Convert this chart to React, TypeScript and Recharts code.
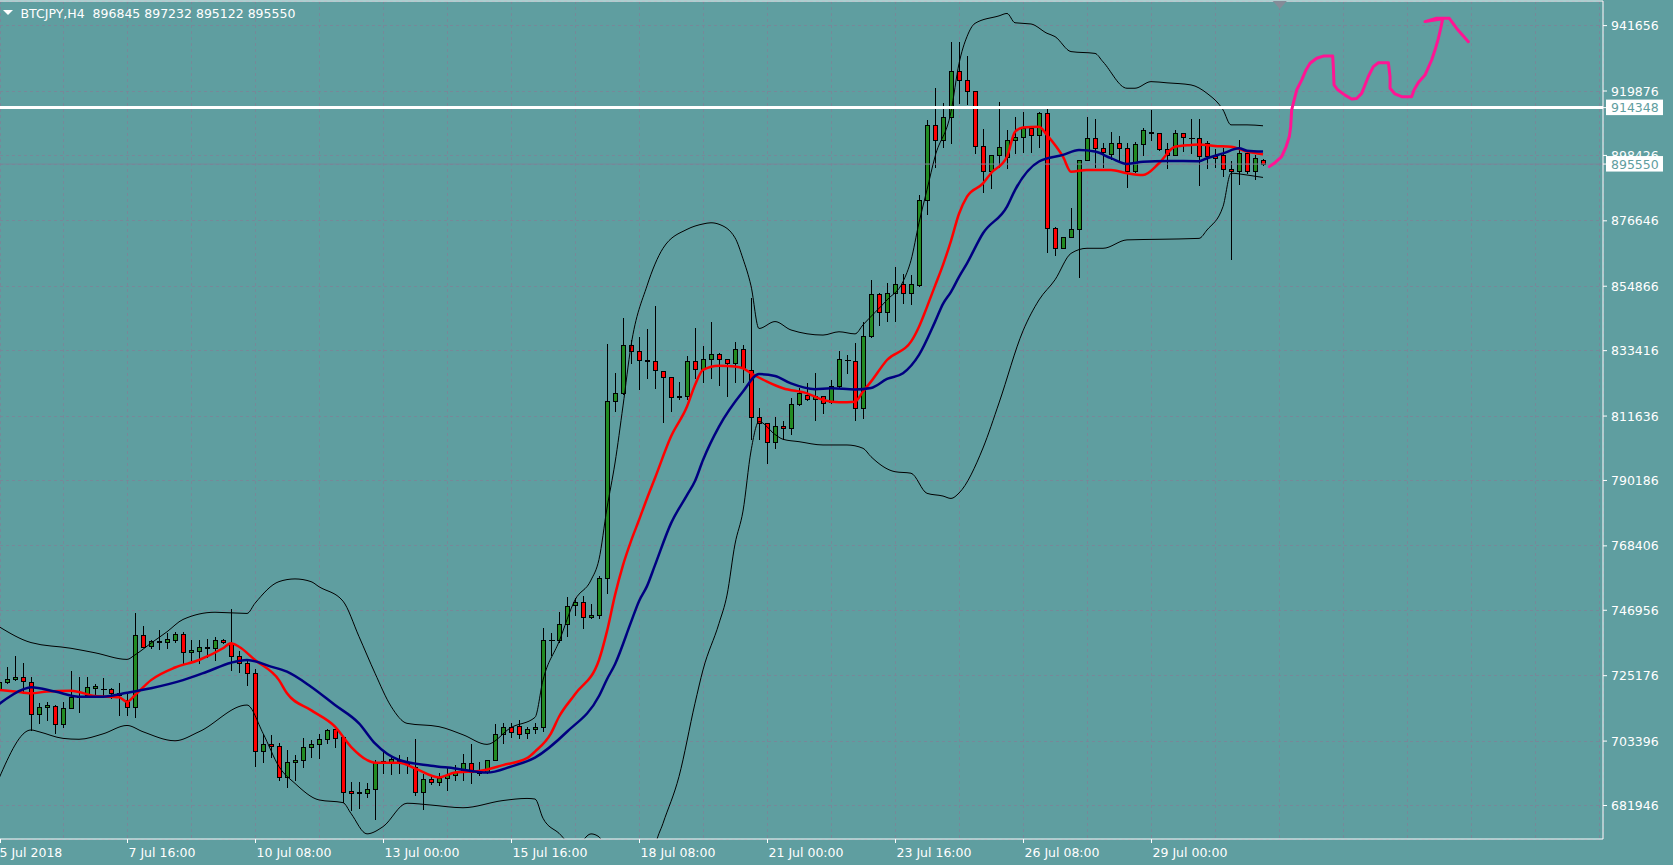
import React from 'react';
import {
  ComposedChart, Bar, Line, Scatter, XAxis, YAxis, CartesianGrid, ReferenceLine, ReferenceDot,
} from 'recharts';

// BTCJPY H4, bar 0 = 5 Jul 2018 00:00, one bar every 4 hours
const OPEN = [
  720400, 723200, 724000, 724900, 723200, 712300, 714600, 715200, 709200, 714300,
  718200, 718700, 721000, 720900, 720600, 719300, 717100, 714900, 738700, 735100,
  736400, 736300, 737100, 739100, 733000, 733500, 734500, 734500, 737100, 736000,
  731800, 729300, 726000, 700200, 702400, 701800, 691300, 696500, 697000, 701300,
  702300, 704100, 707300, 704600, 686800, 686000, 686000, 687300, 696500, 696500,
  696800, 696500, 694900, 686600, 690700, 689700, 691000, 692100, 693200, 696000,
  693200, 693000, 697100, 705800, 708000, 708400, 706000, 707300, 708000, 737100,
  737200, 742300, 748700, 749600, 744600, 745400, 757600, 816700, 819200, 835200,
  833200, 830200, 829900, 826700, 824700, 817900, 818400, 830100, 827200, 830500,
  832200, 830500, 829200, 833800, 826900, 811400, 809200, 803100, 808400, 807500,
  815500, 818600, 817200, 818300, 816200, 821800, 830300, 830100, 814200, 838300,
  852200, 846200, 852500, 855500, 852700, 855300, 883600, 908600, 903600, 911100,
  926500, 923500, 919900, 901600, 893200, 898600, 897800, 903600, 904500, 907700,
  905200, 912400, 874100, 867500, 871200, 873800, 896900, 904300, 900800, 898900,
  902500, 900800, 893200, 902100, 906300, 905800, 900400, 898600, 905800, 904300,
  904100, 902700, 898200, 898600, 893800, 893200, 899100, 893200, 896845,
];
const HIGH = [
  724800, 728000, 731800, 729500, 724900, 716000, 716300, 715400, 716500, 726700,
  724600, 724600, 722400, 724300, 721000, 722900, 719300, 745900, 741700, 737100,
  740400, 739300, 739800, 739800, 737100, 737100, 737300, 737900, 737300, 747400,
  733500, 730400, 727300, 705600, 705400, 702900, 700400, 698800, 704300, 703800,
  705800, 707300, 707500, 705200, 689900, 689900, 689300, 697100, 700400, 698200,
  698800, 698200, 704000, 692400, 691500, 692700, 694900, 695400, 699100, 702400,
  696500, 697100, 709100, 709500, 709500, 710400, 708200, 709300, 740900, 739500,
  746500, 751500, 750900, 751700, 749000, 758400, 835600, 825900, 844200, 837000,
  838000, 840500, 848300, 826700, 824700, 823100, 831700, 840800, 835100, 842800,
  832700, 830500, 836400, 835300, 851100, 814200, 809200, 811200, 810100, 817800,
  820900, 822500, 825900, 818300, 823600, 833300, 832000, 836100, 843100, 856900,
  852700, 855800, 861400, 858800, 858600, 885200, 910200, 920800, 915800, 936300,
  936300, 931500, 919900, 907100, 898600, 916300, 906900, 911100, 913000, 908200,
  913000, 914100, 874700, 871200, 880800, 896900, 911300, 910600, 902500, 906300,
  905000, 902500, 903000, 907400, 913600, 905800, 902500, 906900, 905800, 910400,
  910400, 903200, 900500, 900800, 896600, 903600, 899700, 898600, 897232,
];
const LOW = [
  719300, 722600, 723700, 719300, 707100, 709500, 710400, 706000, 708200, 714300,
  713000, 718200, 718200, 718200, 717600, 712100, 712100, 711500, 734800, 734300,
  734000, 734300, 736500, 729300, 730400, 729300, 731500, 730400, 736000, 727100,
  726500, 722100, 695200, 696500, 698200, 690500, 688200, 690400, 694900, 698200,
  697700, 702700, 701500, 683200, 680500, 681000, 684900, 677300, 692900, 692400,
  692700, 692700, 685400, 680700, 689100, 688800, 687100, 690400, 690400, 689300,
  692100, 692700, 697100, 702700, 704900, 704300, 704300, 706000, 706600, 732100,
  736500, 738400, 745400, 740900, 744300, 744300, 752600, 813400, 819000, 829200,
  820500, 824400, 821100, 809800, 813400, 817300, 817200, 824400, 823100, 824400,
  822000, 818400, 823100, 823100, 803900, 803900, 796100, 800900, 803900, 805500,
  815300, 817000, 810300, 812800, 815900, 821400, 826100, 810300, 811100, 838100,
  841900, 843400, 843400, 849400, 848900, 854900, 878900, 894700, 901300, 902700,
  915800, 915500, 899100, 886400, 887500, 894700, 894100, 899100, 899700, 899700,
  901300, 866200, 865300, 867500, 871200, 858000, 896900, 894700, 894500, 897100,
  896900, 887800, 893000, 898600, 903600, 900200, 894100, 898500, 900000, 899100,
  888600, 894100, 894500, 891600, 864100, 888800, 892500, 890500, 895122,
];
const CLOSE = [
  723200, 724000, 724900, 723400, 712300, 714600, 715400, 709200, 714300, 718200,
  718000, 721500, 721700, 720800, 719300, 718700, 714900, 738700, 734800, 736600,
  736800, 737400, 739100, 733000, 733700, 734600, 734800, 737100, 736300, 731800,
  729300, 726000, 700200, 702400, 701800, 691300, 696500, 697000, 701300, 702300,
  704100, 707100, 704300, 686600, 686000, 686600, 687300, 696500, 696700, 697300,
  697100, 695900, 686600, 690700, 689700, 691200, 692100, 693200, 696000, 693200,
  692900, 697100, 705800, 708000, 706500, 705800, 707300, 708000, 737100, 737200,
  742300, 748500, 749600, 744600, 745400, 757600, 816700, 819200, 835200, 833200,
  830200, 830000, 827000, 824700, 817900, 818400, 830100, 827200, 830500, 832200,
  830500, 829200, 833800, 827500, 811400, 809400, 803100, 808400, 807500, 815500,
  819200, 817200, 818300, 815900, 821800, 830500, 830300, 814200, 838300, 852200,
  846200, 852500, 855500, 852700, 855500, 883600, 908600, 903600, 911100, 926500,
  923500, 919900, 901600, 893400, 898600, 901300, 903600, 904500, 907700, 905200,
  912400, 874100, 867500, 871200, 873800, 896900, 904300, 900800, 899500, 902500,
  900800, 893200, 902100, 906900, 905800, 900400, 898600, 905800, 904400, 904300,
  898200, 898200, 897600, 893800, 893200, 899100, 893200, 897500, 895550,
];

// Bollinger bands and moving averages, read at these bars
const UPPER_AT = [
  0, 4, 9, 12, 16, 17, 19, 21, 23, 27, 31, 32, 35, 37, 39, 40, 43, 45, 47, 49,
  51, 55, 58, 61, 64, 67, 68, 70, 72, 74, 75, 76, 77, 78, 79, 81, 83, 86, 88, 89,
  90, 92, 93, 94, 95, 97, 99, 103, 105, 107, 108, 111, 113, 114, 115, 116, 117, 119, 120, 121,
  122, 125, 126, 127, 129, 131, 132, 134, 137, 138, 141, 142, 144, 146, 149, 151, 153, 154, 156, 158,
];
const UPPER = [
  741500, 736200, 734300, 732800, 730600, 732100, 736000, 739800, 743900, 746300,
  745900, 749300, 756500, 757400, 756500, 754800, 750000, 738200, 726000, 715000,
  709300, 708200, 705500, 702300, 707900, 711300, 723700, 736500, 750400, 757000,
  763900, 781000, 796000, 815000, 835000, 855000, 867500, 873800, 875600, 876000,
  875500, 871000, 864000, 855000, 840800, 843100, 840300, 838600, 839700, 839000,
  842000, 850300, 856400, 863500, 876000, 887000, 898000, 913000, 929000, 938000,
  942400, 944900, 945700, 942600, 942200, 939100, 938000, 933000, 932400, 929600,
  920800, 920800, 923000, 922600, 921900, 919100, 913600, 908600, 908600, 908300,
];
const LOWER_AT = [
  0, 4, 5, 8, 10, 13, 16, 18, 22, 25, 31, 33, 35, 37, 40, 43, 44, 46, 48, 51,
  54, 58, 63, 66, 67, 68, 70, 72, 74, 75, 77, 79, 81, 82, 83, 85, 87, 88, 90, 91,
  92, 93, 94, 95, 97, 98, 100, 103, 106, 108, 109, 112, 114, 116, 118, 119, 120, 123, 125, 128,
  130, 132, 134, 136, 138, 141, 145, 150, 151, 153, 154, 156, 158,
];
const LOWER = [
  691000, 707100, 706500, 704300, 704000, 705800, 708600, 706500, 703500, 706500,
  715400, 706000, 694900, 689300, 683800, 682900, 679300, 672500, 674900, 682700,
  682100, 681200, 683600, 684300, 684100, 677700, 672700, 668000, 672500, 671500,
  655000, 640000, 650000, 668000, 676000, 691600, 716000, 727100, 742600, 752000,
  769000, 780000, 800000, 809800, 805500, 803900, 803100, 802000, 802000, 800900,
  798100, 793100, 792600, 785900, 785000, 784200, 786000, 801000, 816000, 840000,
  850300, 857000, 865800, 867500, 867500, 870300, 870500, 870800, 873600, 881400,
  892500, 891900, 891100,
];
const RED_AT = [
  0, 2, 4, 6, 9, 12, 15, 16, 17, 19, 22, 25, 28, 29, 30, 32, 35, 36, 39, 42,
  44, 46, 47, 50, 52, 55, 57, 60, 63, 66, 67, 69, 70, 72, 75, 76, 77, 78, 79, 80,
  81, 82, 84, 86, 87, 88, 90, 92, 93, 94, 96, 98, 101, 103, 105, 107, 108, 109, 111, 114,
  115, 116, 117, 118, 119, 120, 121, 123, 124, 126, 127, 128, 130, 131, 133, 134, 136, 139, 141, 143,
  145, 147, 149, 150, 152, 154, 156, 158,
];
const RED_MA = [
  720400, 719900, 719300, 719900, 720200, 718400, 718000, 716500, 718700, 723700,
  727900, 730400, 734300, 736000, 734800, 730400, 723700, 719300, 713700, 708200,
  701500, 697100, 696200, 696200, 694300, 691300, 692900, 693400, 695400, 697700,
  699900, 706000, 711500, 719000, 730400, 740000, 752000, 762000, 770000, 777000,
  784200, 791000, 804800, 814800, 822000, 827000, 828400, 828100, 827500, 825900,
  823100, 820900, 819200, 817000, 816200, 816400, 819800, 823100, 830300, 836400,
  841400, 848000, 855000, 862000, 870000, 879000, 884700, 889100, 892500, 898000,
  906300, 907700, 908000, 905200, 898000, 893000, 893600, 893600, 892500, 891900,
  895800, 901300, 901900, 902100, 901600, 901300, 899700, 898800,
];
const NAVY_AT = [
  0, 3, 4, 7, 10, 13, 16, 19, 23, 26, 29, 31, 34, 36, 39, 42, 45, 47, 50, 54,
  57, 61, 64, 67, 71, 75, 76, 77, 79, 80, 81, 82, 84, 86, 87, 88, 90, 93, 95, 97,
  99, 102, 104, 107, 109, 111, 113, 115, 117, 118, 119, 120, 121, 123, 126, 127, 130, 133, 135, 137,
  139, 141, 143, 146, 150, 151, 153, 155, 156, 158,
];
const NAVY_MA = [
  715700, 720600, 721300, 719900, 718200, 718200, 719500, 721000, 723700, 726500,
  729500, 730400, 728200, 726500, 721500, 715400, 709300, 702600, 697100, 695200,
  694300, 692900, 694900, 697900, 706500, 718400, 724000, 729000, 743000, 750000,
  755000, 762000, 775900, 785300, 790000, 797000, 808100, 819800, 825600, 825000,
  822500, 820600, 820900, 820500, 821000, 824000, 825900, 832000, 843000, 849000,
  853000, 858000, 862500, 872500, 881400, 886900, 896400, 898600, 900200, 899700,
  897500, 895600, 896300, 896600, 896500, 897500, 899100, 900800, 900000, 899700,
];

// hand-drawn pink forecast stroke (bar position, price)
const PINK_X = [
  158.79, 159.5, 160.33, 160.88, 161.29, 161.46, 161.58, 161.79, 162.21, 162.83,
  163.38, 163.88, 164.71, 165.54, 166.71, 166.79, 166.88, 167.29, 168.25, 169.08,
  169.71, 170.33, 170.75, 171.17, 171.79, 172.42, 173.67, 173.88, 173.88, 174.5,
  175.33, 176.58, 176.88, 177.42, 178.25, 179.08, 179.5, 179.92, 180.21, 180.46,
  178.25, 179.71, 181.29, 182.21, 183.67,
];
const PINK_Y = [
  894700, 896000, 898000, 901300, 904700, 908000, 913500, 915800, 920200, 923500,
  926900, 929100, 930800, 931500, 931500, 928000, 921900, 920400, 918500, 917200,
  917400, 919100, 921900, 924700, 928000, 929300, 929300, 924700, 920800, 918900,
  918000, 918000, 920200, 922700, 925200, 930200, 933500, 937400, 940700, 943900,
  943000, 944100, 944100, 940700, 936300,
];

const PRICE_TICKS = [
  941656, 919876, 898426, 876646, 854866, 833416, 811636, 790186, 768406,
  746956, 725176, 703396, 681946,
];
const LEVEL = 914348;
const BID = 895550;
const DATE_AT = [0.125, 16, 32, 48, 64, 80, 96, 112, 128, 144];
const DATE_LABELS = [
  '5 Jul 2018', '7 Jul 16:00', '10 Jul 08:00', '13 Jul 00:00', '15 Jul 16:00',
  '18 Jul 08:00', '21 Jul 00:00', '23 Jul 16:00', '26 Jul 08:00', '29 Jul 00:00',
];
const GRID_AT = [8, 16, 24, 32, 40, 48, 56, 64, 72, 80, 88, 96, 104, 112, 120, 128, 136, 144, 152, 160, 168, 176, 184, 192, 200];

const X_MIN = 0.125;
const X_MAX = 200.5;
const Y_MIN = 670790;
const Y_MAX = 949850;

const BG = '#5F9EA0';
const BULL = '#228B22';
const BEAR = '#FF0000';
const GRID = '#778899';
const FONT = '"DejaVu Sans", sans-serif';

const candles = OPEN.map((o, i) => ({
  x: i, o, h: HIGH[i], l: LOW[i], c: CLOSE[i], range: [LOW[i], HIGH[i]],
}));
const pairs = (xs: number[], ys: number[]) => xs.map((x, i) => ({ x, y: ys[i] }));
const upperData = pairs(UPPER_AT, UPPER);
const lowerData = pairs(LOWER_AT, LOWER);
const redData = pairs(RED_AT, RED_MA);
const navyData = pairs(NAVY_AT, NAVY_MA);
const pinkData = pairs(PINK_X, PINK_Y);

const Candle = (props: any) => {
  const { x, y, width, height, payload } = props;
  if (!payload || x == null) return null;
  const { o, h, l, c } = payload;
  const top = Math.min(y, y + height);
  const hh = Math.abs(height);
  const span = h - l || 1;
  const py = (v: number) => top + ((h - v) / span) * hh;
  const cx = Math.round(x + width / 2) + 0.5;
  const bTop = Math.round(py(Math.max(o, c)));
  const bBot = Math.round(py(Math.min(o, c)));
  return (
    <g shapeRendering="crispEdges">
      <line x1={cx} x2={cx} y1={Math.round(py(h))} y2={Math.round(py(l)) + 1} stroke="#000" />
      {bBot - bTop < 1 ? (
        <line x1={cx - 3} x2={cx + 3} y1={bTop + 0.5} y2={bTop + 0.5} stroke="#000" />
      ) : (
        <rect x={cx - 2} y={bTop + 0.5} width={4} height={bBot - bTop}
          fill={c >= o ? BULL : BEAR} stroke="#000" />
      )}
    </g>
  );
};

const PriceTick = (props: any) => {
  const { x, y, payload } = props;
  const v = payload.value;
  if (v === LEVEL || v === BID) {
    return (
      <g>
        <rect x={x - 4} y={y - 8} width={57} height={15.5} fill="#fff" />
        <text x={x + 1} y={y + 4.5} fill={BG} fontSize={12.5} fontFamily={FONT}>{v}</text>
      </g>
    );
  }
  return <text x={x + 1} y={y + 4.5} fill="#fff" fontSize={12.5} fontFamily={FONT}>{v}</text>;
};

const DateTick = (props: any) => {
  const { x, y, payload } = props;
  const k = DATE_AT.indexOf(payload.value);
  if (k < 0) return null;
  const tx = Math.round(x) + 0.5;
  return (
    <g>
      <line x1={tx} x2={tx} y1={y - 4} y2={y} stroke="#fff" />
      <text x={tx + (k === 0 ? -1 : 1)} y={y + 14} fill="#fff" fontSize={12.5} fontFamily={FONT}>
        {DATE_LABELS[k]}
      </text>
    </g>
  );
};

const ShiftMark = (props: any) => {
  const { cx, cy } = props;
  if (cx == null) return null;
  return <polygon points={`${cx - 7},${cy} ${cx + 7},${cy} ${cx},${cy + 8}`} fill="#848c98" />;
};

const NoDot = () => <g />;

export default function App() {
  return (
    <div style={{ position: 'relative', width: 1673, height: 865, background: BG, overflow: 'hidden' }}>
      <style>{'body{margin:0;}'}</style>
      <ComposedChart width={1673} height={865} data={candles} margin={{ top: 1, right: 0, bottom: 0, left: 0 }}>
        <CartesianGrid stroke={GRID} strokeDasharray="3 3" shapeRendering="crispEdges" />
        <XAxis
          type="number" dataKey="x" domain={[X_MIN, X_MAX]} allowDataOverflow
          ticks={[X_MIN, ...GRID_AT]} interval={0} height={26}
          axisLine={{ stroke: '#fff' }} tickLine={false} tickSize={4} tickMargin={0}
          tick={<DateTick />}
        />
        <YAxis
          type="number" orientation="right" domain={[Y_MIN, Y_MAX]} allowDataOverflow
          ticks={[...PRICE_TICKS, LEVEL, BID]} interval={0} width={70}
          axisLine={{ stroke: '#fff' }} tickLine={{ stroke: '#fff' }} tickSize={4} tickMargin={3}
          tick={<PriceTick />}
        />
        <ReferenceLine y={BID} stroke={GRID} />
        <Bar dataKey="range" barSize={5} shape={<Candle />} isAnimationActive={false} />
        <Line data={upperData} dataKey="y" type="monotone" stroke="#000" strokeWidth={1} dot={false} isAnimationActive={false} />
        <Line data={lowerData} dataKey="y" type="monotone" stroke="#000" strokeWidth={1} dot={false} isAnimationActive={false} />
        <Line data={redData} dataKey="y" type="monotone" stroke="#FF0000" strokeWidth={2.5} dot={false} isAnimationActive={false} />
        <Line data={navyData} dataKey="y" type="monotone" stroke="#000080" strokeWidth={2.5} dot={false} isAnimationActive={false} />
        <ReferenceLine y={LEVEL} stroke="#fff" strokeWidth={3} />
        <ReferenceLine y={Y_MAX} stroke="#fff" />
        <Scatter
          data={pinkData} dataKey="y" shape={<NoDot />} isAnimationActive={false}
          line={{ stroke: '#FF1493', strokeWidth: 3, strokeLinejoin: 'round', strokeLinecap: 'round' }}
        />
        <ReferenceDot x={160.1} y={Y_MAX} shape={<ShiftMark />} />
      </ComposedChart>
      <svg style={{ position: 'absolute', left: 0, top: 0 }} width={420} height={24}>
        <polygon points="3,10 13,10 8,15" fill="#fff" />
        <text x={20.5} y={17.5} fill="#fff" fontSize={12.5} fontFamily={FONT} style={{ whiteSpace: 'pre' }}>
          {'BTCJPY,H4  896845 897232 895122 895550'}
        </text>
      </svg>
    </div>
  );
}
